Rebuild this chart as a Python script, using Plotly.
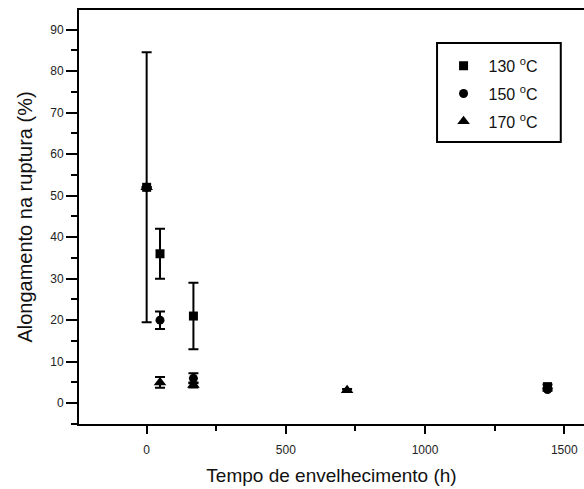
import plotly.graph_objects as go

# Data
t130 = [0, 48, 168, 1440]
y130 = [52, 36, 21, 4]
e130 = [32.5, 6, 8, 0.5]

t150 = [0, 48, 168, 1440]
y150 = [52, 20, 6, 3.3]
e150 = [0, 2.1, 1.2, 0.3]

t170 = [0, 48, 168, 720]
y170 = [52, 5, 4.4, 3.1]
e170 = [0, 1.3, 0.6, 0.3]

labels = ["130 <sup>o</sup>C", "150 <sup>o</sup>C", "170 <sup>o</sup>C"]

FONT = "Liberation Sans, Arial, sans-serif"

fig = go.Figure()

def err(v):
    return dict(type="data", array=v, visible=True, color="black",
                thickness=2, width=5)

fig.add_trace(go.Scatter(x=t170, y=y170, mode="markers", name=labels[2],
                         marker=dict(symbol="triangle-up", size=11, color="black"),
                         error_y=err(e170), legendrank=3, legendgroup="c"))
fig.add_trace(go.Scatter(x=t150, y=y150, mode="markers", name=labels[1],
                         marker=dict(symbol="circle", size=9, color="black"),
                         error_y=err(e150), legendrank=2, legendgroup="b"))
fig.add_trace(go.Scatter(x=t130, y=y130, mode="markers", name=labels[0],
                         marker=dict(symbol="square", size=9, color="black"),
                         error_y=err(e130), legendrank=1, legendgroup="a"))

# legend frame
fig.add_shape(type="rect", xref="paper", yref="paper",
              x0=0.709, x1=0.954, y0=0.681, y1=0.920,
              line=dict(color="black", width=2), fillcolor="rgba(0,0,0,0)",
              layer="above")

fig.update_layout(
    width=584, height=489,
    margin=dict(l=79, r=0, t=10, b=65),
    paper_bgcolor="white", plot_bgcolor="white",
    font=dict(family=FONT, color="#222"),
    showlegend=True,
    legend=dict(x=0.712, y=0.922, xanchor="left", yanchor="top",
                borderwidth=0, bgcolor="rgba(0,0,0,0)",
                font=dict(size=16, color="#111"), itemwidth=40,
                tracegroupgap=4, traceorder="grouped",
                title=dict(text=" ", font=dict(size=5))),
    xaxis=dict(range=[-243, 1571], tick0=0, dtick=500,
               showgrid=False, zeroline=False,
               showline=True, linecolor="black", linewidth=2, mirror=True,
               ticks="outside", ticklen=8, tickwidth=2, tickcolor="black",
               minor=dict(dtick=250, tick0=0, ticks="outside", ticklen=5,
                          tickwidth=2, tickcolor="black"),
               tickfont=dict(size=12, color="#222"), ticklabelstandoff=6,
               title=dict(text="Tempo de envelhecimento (h)",
                          font=dict(size=19, color="#111"), standoff=12)),
    yaxis=dict(range=[-5, 94.7], tick0=0, dtick=10,
               showgrid=False, zeroline=False,
               showline=True, linecolor="black", linewidth=2, mirror=False,
               ticks="outside", ticklen=11, tickwidth=2, tickcolor="black",
               minor=dict(dtick=5, tick0=0, ticks="outside", ticklen=6,
                          tickwidth=2, tickcolor="black"),
               tickfont=dict(size=12, color="#222"),
               title=dict(text="Alongamento na ruptura (%)",
                          font=dict(size=20, color="#111"), standoff=12)),
)

fig.write_html("out.html", config={"displayModeBar": False},
               post_script="document.body.style.margin='0';")
